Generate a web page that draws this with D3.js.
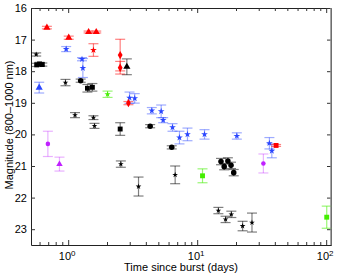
<!DOCTYPE html>
<html>
<head>
<meta charset="utf-8">
<script src="https://cdn.jsdelivr.net/npm/d3@7"></script>
<style>
body { margin: 0; background: #fff; }
svg { display: block; font-family: "Liberation Sans", Arial, sans-serif; }
</style>
</head>
<body>
<svg width="338" height="276"></svg>
<script>
// each point: [days since burst, magnitude, error]
var redTriangles = [[0.684, 16.62, 0.04], [1.01, 16.94, 0.05], [1.44, 16.76, 0.03], [1.65, 16.76, 0.03]];
var redStars = [[1.57, 17.33, 0.2]];
var redDiamonds = [[2.53, 17.49, 0.5], [2.53, 17.89, 0.2], [2.93, 19.01, 0.05]];
var redSquares = [[40.9, 20.35, 0.03]];

var blackStars = [[0.565, 17.47, 0.05], [0.953, 18.36, 0.1], [1.13, 19.39, 0.08], [1.57, 19.47, 0.06],
  [1.60, 19.73, 0.08], [2.56, 20.94, 0.1], [3.51, 21.65, 0.3], [6.75, 21.28, 0.28],
  [14.6, 22.41, 0.1], [16.6, 22.69, 0.1], [18.4, 22.53, 0.1], [22.5, 22.9, 0.15], [26.6, 22.79, 0.3]];
var blackSquares = [[0.57, 17.8, 0.05], [0.60, 17.77, 0.05], [0.63, 17.79, 0.05],
  [1.41, 18.54, 0.12], [1.54, 18.51, 0.12], [2.53, 19.83, 0.2]];
var blackCircles = [[1.25, 18.3, 0.05], [4.32, 19.74, 0.05], [6.35, 20.41, 0.05],
  [15.3, 20.86, 0.1], [16.2, 21.02, 0.1], [17.3, 20.84, 0.1], [18.3, 20.98, 0.1], [19.2, 21.21, 0.1]];
var blackTriangles = [[2.85, 17.86, 0.25]];

var blueTriangles = [[0.596, 18.52, 0.17]];
var blueStars = [[0.965, 17.3, 0.08], [1.28, 17.62, 0.05], [1.30, 17.9, 0.3], [2.99, 18.84, 0.18],
  [3.28, 18.86, 0.15], [4.45, 19.25, 0.1], [5.26, 19.27, 0.2], [5.45, 19.55, 0.08], [6.44, 19.78, 0.12],
  [7.29, 20.1, 0.2], [8.41, 20.0, 0.2], [11.4, 20.0, 0.15], [20.3, 20.05, 0.1], [36.3, 20.28, 0.18],
  [37.9, 20.52, 0.22]];

var greenStars = [[2.02, 18.73, 0.1]];
var greenSquares = [[11.0, 21.31, 0.22], [101, 22.62, 0.35]];

var magentaCircles = [[0.696, 20.3, 0.4], [32.6, 20.92, 0.3]];
var magentaTriangles = [[0.856, 20.94, 0.22]];

var yTicks = [16, 17, 18, 19, 20, 21, 22, 23];
var xMajor = [1, 10, 100];

var svg = d3.select("svg");
var mLeft = 31, mRight = 331, mTop = 8, mBottom = 245;

var x = d3.scaleLog().domain([0.515, 109]).range([mLeft, mRight]);
var y = d3.scaleLinear().domain([16, 23.5]).range([mTop, mBottom]);

// minor ticks for log axis
var xTicks = [];
[0.1, 1, 10].forEach(function(d) {
  for (var i = 1; i < 10; i++) {
    var v = d * i;
    if (v >= 0.515 && v <= 109) xTicks.push(v);
  }
});
xTicks.push(100);

var bottomAxis = svg.append("g")
  .attr("transform", "translate(0," + mBottom + ")")
  .call(d3.axisBottom(x).tickValues(xTicks).tickSizeInner(-3).tickSizeOuter(0).tickFormat(""));
var topAxis = svg.append("g")
  .attr("transform", "translate(0," + mTop + ")")
  .call(d3.axisTop(x).tickValues(xTicks).tickSizeInner(-3).tickSizeOuter(0).tickFormat(""));
[bottomAxis, topAxis].forEach(function(a, i) {
  a.selectAll(".tick line")
    .filter(function(d) { return xMajor.indexOf(d) >= 0; })
    .attr("y2", i == 0 ? -5 : 5);
});

svg.append("g")
  .attr("transform", "translate(" + mLeft + ",0)")
  .call(d3.axisLeft(y).tickValues(yTicks).tickSizeInner(-4).tickSizeOuter(0).tickPadding(4))
  .selectAll("text").attr("font-size", 11).attr("font-family", "Liberation Sans, Arial, sans-serif").attr("fill", "#000");
svg.append("g")
  .attr("transform", "translate(" + mRight + ",0)")
  .call(d3.axisRight(y).tickValues(yTicks).tickSizeInner(-4).tickSizeOuter(0).tickFormat(""));

svg.selectAll(".domain").attr("stroke", "#222");
svg.selectAll(".tick line").attr("stroke", "#333");

// x labels 10^n
xMajor.forEach(function(v, i) {
  var t = svg.append("text")
    .attr("x", x(v) - 1)
    .attr("y", mBottom + 15)
    .attr("text-anchor", "middle")
    .attr("font-size", 11);
  t.append("tspan").text("10");
  t.append("tspan").attr("dy", -4).attr("font-size", 8).text(i);
});

svg.append("text")
  .attr("x", 181)
  .attr("y", 271)
  .attr("text-anchor", "middle")
  .attr("font-size", 11)
  .text("Time since burst (days)");

svg.append("text")
  .attr("transform", "translate(13,125) rotate(-90)")
  .attr("text-anchor", "middle")
  .attr("font-size", 11)
  .text("Magnitude (800\u20131000 nm)");

var groups = [
  {data: blackSquares, color: "#000", bar: "#000", op: 0.5, sym: d3.symbolSquare, size: 24},
  {data: blackStars, color: "#000", bar: "#000", op: 0.5, sym: d3.symbolStar, size: 10},
  {data: blackCircles, color: "#000", bar: "#000", op: 0.5, sym: d3.symbolCircle, size: 24},
  {data: blackTriangles, color: "#000", bar: "#000", op: 0.5, sym: d3.symbolTriangle, size: 22},
  {data: blueTriangles, color: "#2a46ff", bar: "#2a46ff", op: 0.45, sym: d3.symbolTriangle, size: 22},
  {data: blueStars, color: "#2a46ff", bar: "#2a46ff", op: 0.45, sym: d3.symbolStar, size: 14},
  {data: greenStars, color: "#44ee00", bar: "#44ee00", op: 0.55, sym: d3.symbolStar, size: 12},
  {data: greenSquares, color: "#44ee00", bar: "#44ee00", op: 0.55, sym: d3.symbolSquare, size: 24},
  {data: magentaCircles, color: "#c020ff", bar: "#c020ff", op: 0.35, sym: d3.symbolCircle, size: 16},
  {data: magentaTriangles, color: "#c020ff", bar: "#c020ff", op: 0.35, sym: d3.symbolTriangle, size: 18},
  {data: redTriangles, color: "#ff0000", bar: "#ff0000", op: 0.5, sym: d3.symbolTriangle, size: 22},
  {data: redStars, color: "#ff0000", bar: "#ff0000", op: 0.5, sym: d3.symbolStar, size: 14},
  {data: redDiamonds, color: "#ff0000", bar: "#ff0000", op: 0.5, sym: d3.symbolDiamond, size: 20},
  {data: redSquares, color: "#ff0000", bar: "#ff0000", op: 0.5, sym: d3.symbolSquare, size: 24}
];

var cap = 5;
groups.forEach(function(g) {
  var bars = svg.append("g")
    .attr("stroke", g.bar)
    .attr("stroke-opacity", g.op)
    .attr("stroke-width", 1.2)
    .selectAll("g")
    .data(g.data)
    .enter()
    .append("g");
  bars.append("line")
    .attr("x1", function(d) { return x(d[0]); })
    .attr("x2", function(d) { return x(d[0]); })
    .attr("y1", function(d) { return y(d[1] - d[2]); })
    .attr("y2", function(d) { return y(d[1] + d[2]); });
  bars.append("line")
    .attr("x1", function(d) { return x(d[0]) - cap; })
    .attr("x2", function(d) { return x(d[0]) + cap; })
    .attr("y1", function(d) { return y(d[1] - d[2]); })
    .attr("y2", function(d) { return y(d[1] - d[2]); });
  bars.append("line")
    .attr("x1", function(d) { return x(d[0]) - cap; })
    .attr("x2", function(d) { return x(d[0]) + cap; })
    .attr("y1", function(d) { return y(d[1] + d[2]); })
    .attr("y2", function(d) { return y(d[1] + d[2]); });

  svg.append("g")
    .selectAll("path")
    .data(g.data)
    .enter()
    .append("path")
    .attr("d", d3.symbol().type(g.sym).size(g.size))
    .attr("transform", function(d) { return "translate(" + x(d[0]) + "," + y(d[1]) + ")"; })
    .attr("fill", g.color);
});

// right edge of box looks heavier/grey in the original
svg.append("line")
  .attr("x1", mRight).attr("x2", mRight).attr("y1", mTop).attr("y2", mBottom)
  .attr("stroke", "#888").attr("stroke-width", 1.5);
</script>
</body>
</html>
